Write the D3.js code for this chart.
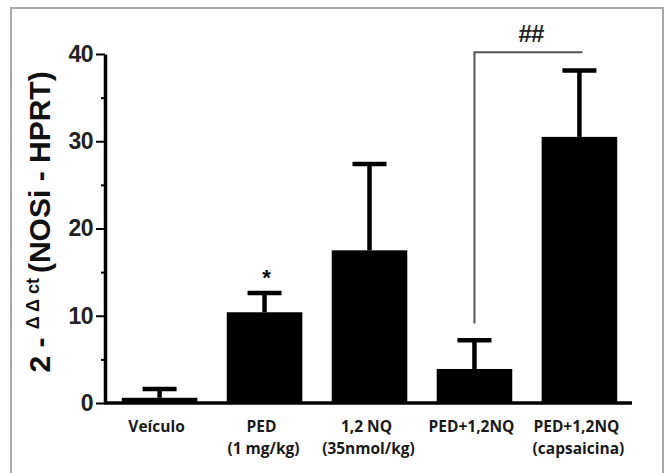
<!DOCTYPE html>
<html>
<head>
<meta charset="utf-8">
<script src="https://cdn.jsdelivr.net/npm/d3@7"></script>
<style>
  body { margin: 0; background: #fff; }
</style>
</head>
<body>
<div id="chart"></div>
<script>
// groups (band keys) and the text printed under each bar
const groups = ['Veículo', 'PED', '1,2 NQ', 'PED+1,2NQ', 'PED+1,2NQ (capsaicina)'];
const labelLine1 = ['Veículo', 'PED', '1,2 NQ', 'PED+1,2NQ', 'PED+1,2NQ'];
const labelLine2 = ['', '(1 mg/kg)', '(35nmol/kg)', '', '(capsaicina)'];

// mean and upper error (SEM)
const means = [0.6, 10.4, 17.5, 3.9, 30.5];
const errors = [1.0, 2.2, 9.9, 3.3, 7.6];

const yTicks = [0, 10, 20, 30, 40];
const yMinorTicks = [5, 15, 25, 35];

// significance marks
const stars = [{ group: 'PED', value: 14.8, text: '*' }];
const brackets = [{ from: 'PED+1,2NQ', to: 'PED+1,2NQ (capsaicina)', legBottom: 9.1, level: 40.2, text: '##' }];

const width = 670;
const height = 473;

const svg = d3.select('#chart')
  .append('svg')
  .attr('width', width)
  .attr('height', height);

// grey frame round the figure (open at the bottom edge of the picture)
svg.append('rect')
  .attr('x', 11)
  .attr('y', 8)
  .attr('width', 652)
  .attr('height', 520)
  .style('fill', 'none')
  .style('stroke', '#a8a8a8')
  .style('stroke-width', 2);

const x = d3.scaleBand()
  .domain(groups)
  .range([105, 634])
  .paddingInner(0.28)
  .paddingOuter(0.16);

const y = d3.scaleLinear()
  .domain([0, 40])
  .range([403, 54]);

const cx = g => x(g) + x.bandwidth() / 2;

// bars
svg.append('g')
  .selectAll('rect')
  .data(groups)
  .enter().append('rect')
  .attr('x', d => x(d))
  .attr('y', (d, i) => y(means[i]))
  .attr('width', x.bandwidth())
  .attr('height', (d, i) => y(0) - y(means[i]))
  .style('fill', '#000');

// error bars, upper half only
const err = svg.append('g')
  .style('stroke', '#000')
  .style('stroke-width', 4.5);

err.selectAll('line.stem')
  .data(groups)
  .enter().append('line')
  .attr('class', 'stem')
  .attr('x1', d => cx(d))
  .attr('x2', d => cx(d))
  .attr('y1', (d, i) => y(means[i]))
  .attr('y2', (d, i) => y(means[i] + errors[i]));

err.selectAll('line.cap')
  .data(groups)
  .enter().append('line')
  .attr('class', 'cap')
  .attr('x1', d => cx(d) - 17)
  .attr('x2', d => cx(d) + 17)
  .attr('y1', (d, i) => y(means[i] + errors[i]))
  .attr('y2', (d, i) => y(means[i] + errors[i]));

// y axis
const yAxis = svg.append('g')
  .attr('transform', 'translate(105,0)')
  .call(d3.axisLeft(y).tickValues(yTicks).tickSize(9).tickSizeOuter(0).tickPadding(3));

yAxis.select('.domain')
  .style('stroke-width', 3.5);
yAxis.selectAll('.tick line')
  .style('stroke-width', 2);
yAxis.selectAll('.tick text')
  .style('font-family', '"Liberation Sans", Arial, sans-serif')
  .style('font-weight', 'bold')
  .style('font-size', '23px')
  .style('letter-spacing', '-0.5px')
  .style('fill', '#222');

svg.append('g')
  .attr('transform', 'translate(105,0)')
  .call(d3.axisLeft(y).tickValues(yMinorTicks).tickSize(4).tickFormat(''))
  .call(g => g.select('.domain').remove())
  .selectAll('.tick line')
  .style('stroke-width', 2);

// baseline
svg.append('line')
  .attr('x1', 104)
  .attr('x2', x.range()[1] - 2)
  .attr('y1', y(0))
  .attr('y2', y(0))
  .style('stroke', '#000')
  .style('stroke-width', 3.5);

// category labels
const labels = svg.append('g')
  .style('font-family', '"Open Sans", "Liberation Sans", sans-serif')
  .style('font-weight', 700)
  .style('font-size', '15.5px')
  .style('fill', '#1a1a1a')
  .attr('text-anchor', 'middle');

labels.selectAll('text.l1')
  .data(groups)
  .enter().append('text')
  .attr('class', 'l1')
  .attr('x', d => cx(d) - 3)
  .attr('y', 432)
  .text((d, i) => labelLine1[i]);

labels.selectAll('text.l2')
  .data(groups)
  .enter().append('text')
  .attr('class', 'l2')
  .attr('x', d => cx(d) - 1)
  .attr('y', 454)
  .text((d, i) => labelLine2[i]);

// y axis title with superscript
const title = svg.append('text')
  .attr('transform', 'translate(50,222) rotate(-90)')
  .attr('text-anchor', 'middle')
  .style('font-family', '"Liberation Sans", Arial, sans-serif')
  .style('font-weight', 'bold')
  .style('fill', '#111');

title.append('tspan').style('font-size', '30px').text('2 - ');
title.append('tspan').style('font-size', '18px').attr('dy', -11).text('Δ Δ ct ');
title.append('tspan').style('font-size', '30px').attr('dy', 11).text('(NOSi - HPRT)');

// star over PED
svg.append('g')
  .selectAll('text')
  .data(stars)
  .enter().append('text')
  .attr('x', d => cx(d.group) + 2)
  .attr('y', d => y(d.value) + 11)
  .attr('text-anchor', 'middle')
  .style('font-family', '"Liberation Sans", Arial, sans-serif')
  .style('font-weight', 'bold')
  .style('font-size', '22px')
  .text(d => d.text);

// bracket with ##
const br = svg.append('g');
br.selectAll('path')
  .data(brackets)
  .enter().append('path')
  .attr('d', d => `M${cx(d.from)},${y(d.legBottom)}V${y(d.level)}H${cx(d.to) + 3}`)
  .style('fill', 'none')
  .style('stroke', '#555')
  .style('stroke-width', 2);

br.selectAll('text')
  .data(brackets)
  .enter().append('text')
  .attr('x', d => (cx(d.from) + cx(d.to)) / 2 + 4)
  .attr('y', d => y(d.level) - 10)
  .attr('text-anchor', 'middle')
  .style('font-family', '"Liberation Sans", Arial, sans-serif')
  .style('font-weight', 'bold')
  .style('font-size', '24px')
  .style('letter-spacing', '-1px')
  .style('fill', '#222')
  .text(d => d.text);
</script>
</body>
</html>
